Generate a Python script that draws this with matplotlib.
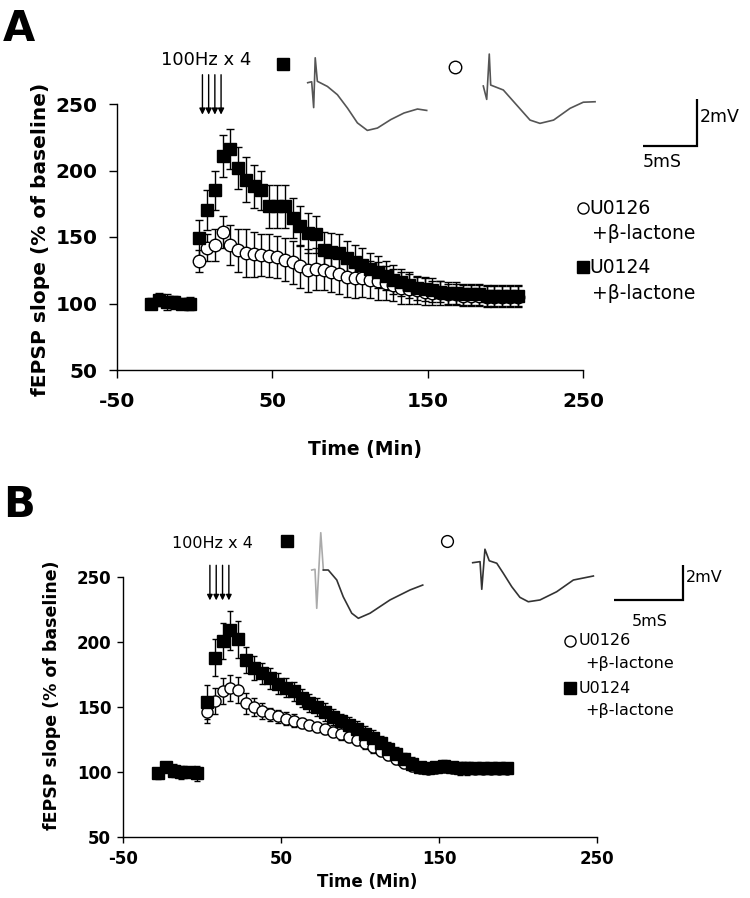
import matplotlib
matplotlib.use("Agg")
import matplotlib.pyplot as plt

plt.rcParams["axes.unicode_minus"] = False

# ---------------- data ----------------
base_t = [-28, -23, -18, -13, -8, -3]
A_base = [100, 103, 101, 101, 100, 100]
A_base_err = [4, 5, 6, 5, 4, 5]
B_base = [99, 104, 101, 100, 100, 99]
B_base_err = [4, 4, 5, 5, 4, 6]

A_t = [3, 8, 13, 18, 23, 28, 33, 38, 43, 48, 53, 58, 63, 68, 73, 78, 83, 88, 93, 98,
       103, 108, 113, 118, 123, 128, 133, 138, 143, 148, 153, 158, 163, 168, 173, 178,
       183, 188, 193, 198, 203, 208]
A_sq = [149, 170, 185, 211, 216, 202, 193, 188, 185, 173, 173, 173, 164, 158, 153, 152,
        140, 139, 138, 134, 131, 129, 126, 124, 121, 118, 116, 114, 112, 111, 110, 109,
        108, 108, 107, 107, 107, 106, 106, 106, 106, 106]
A_sq_err = [14, 15, 15, 16, 15, 16, 17, 16, 15, 16, 16, 16, 15, 15, 15, 14, 14, 14, 14, 13,
            13, 13, 12, 12, 11, 11, 10, 10, 9, 9, 9, 8, 8, 8, 8, 8, 8, 8, 8, 8, 8, 8]
A_ci = [132, 142, 144, 154, 144, 140, 138, 137, 136.5, 136, 135, 133, 131, 128, 125, 126,
        125, 124, 122, 120, 119.5, 119, 118, 117, 115.5, 114, 112, 111, 110, 109, 108, 108,
        107, 107, 106, 106, 106, 105, 105, 105, 105, 105]
A_ci_err = [8, 10, 12, 12, 15, 16, 18, 17, 16, 16, 16, 16, 16, 16, 16, 16, 15, 15, 15, 15,
            15, 14, 14, 14, 13, 12, 12, 11, 10, 10, 9, 9, 8, 8, 8, 8, 8, 8, 8, 8, 8, 8]

B_t = [3, 8, 13, 18, 23, 28, 33, 38, 43, 48, 53, 58, 63, 68, 73, 78, 83, 88, 93, 98,
       103, 108, 113, 118, 123, 128, 133, 138, 143, 148, 153, 158, 163, 168, 173, 178,
       183, 188, 193]
B_sq = [154, 188, 201, 209, 202, 186, 180, 176, 172, 168, 165, 162, 157, 153, 150, 146,
        142.5, 139, 136, 133, 129.5, 126, 122, 118, 114, 110, 106.5, 104, 103, 104, 105,
        104, 103, 103, 103, 103, 103, 103, 103]
B_sq_err = [13, 14, 14, 15, 14, 10, 9, 8, 8, 8, 7, 7, 7, 7, 7, 7, 6, 6, 6, 6, 6, 6, 6, 5,
            5, 5, 5, 4, 4, 4, 4, 4, 5, 5, 4, 4, 4, 4, 4]
B_ci = [146, 155, 162, 165, 163, 153, 150, 147, 144.5, 143, 141, 139.5, 137.5, 136, 134.5,
        133, 131, 129, 127, 125, 122, 119, 116, 113, 110, 107, 104.5, 103, 102, 103, 104,
        103, 102, 102, 102, 102, 102, 102, 102]
B_ci_err = [8, 10, 10, 10, 10, 8, 7, 6, 5, 5, 5, 5, 4, 4, 4, 4, 4, 4, 4, 4, 4, 4, 4, 4,
            4, 4, 4, 3, 3, 3, 3, 3, 3, 3, 3, 3, 3, 3, 3]

stim_t = [5, 9, 13, 17]

x_ticks = [-50, 50, 150, 250]
y_ticks = [50, 100, 150, 200, 250]

# example fEPSP traces (ms, mV)
A1_t = [0.0, 0.28, 0.42, 0.53, 0.68, 1.39, 2.09, 2.80, 3.50, 4.20, 4.91, 5.85, 6.78, 7.73, 8.38]
A1_v = [0.0, 0.04, -1.06, 1.06, 0.06, -0.16, -0.51, -1.08, -1.71, -2.03, -1.93, -1.57, -1.29, -1.12, -1.18]
A2_t = [0.0, 0.24, 0.42, 0.52, 1.41, 2.35, 3.29, 3.99, 4.95, 6.11, 7.04, 7.87]
A2_v = [0.0, -0.57, 1.36, 0.04, -0.17, -0.81, -1.45, -1.59, -1.45, -0.95, -0.69, -0.67]
B1_t = [0.0, 0.23, 0.35, 0.63, 0.81, 1.15, 1.74, 2.19, 2.78, 3.24, 4.05, 5.44, 6.83, 7.71]
B1_v = [0.0, 0.04, -2.19, 2.13, 0.0, 0.0, -0.57, -1.53, -2.47, -2.76, -2.47, -1.71, -1.14, -0.86]
B2_t = [0.0, 0.51, 0.63, 0.85, 1.15, 1.67, 2.13, 2.71, 3.28, 3.86, 4.67, 5.83, 6.99, 8.38]
B2_v = [0.0, 0.06, -1.52, 0.77, 0.11, -0.03, -0.61, -1.37, -1.98, -2.23, -2.13, -1.66, -0.99, -0.76]
bar_ms = 5
bar_mv = 2

# ---------------- figure ----------------
W, H = 750, 898
fig = plt.figure(figsize=(W / 100, H / 100), dpi=100)


def px_box(x0, y0, x1, y1):
    return [x0 / W, 1 - y1 / H, (x1 - x0) / W, (y1 - y0) / H]


def fx(x):
    return x / W


def fy(y):
    return 1 - y / H


def setup(ax, tsize, tlen, xpad, ypad):
    ax.set_xlim(-50, 250)
    ax.set_ylim(50, 250)
    ax.set_xticks(x_ticks)
    ax.set_yticks(y_ticks)
    for s in ["top", "right"]:
        ax.spines[s].set_visible(False)
    for s in ["left", "bottom"]:
        ax.spines[s].set_linewidth(1.0)
    ax.tick_params(direction="out", length=tlen, width=1.0, labelsize=tsize)
    ax.tick_params(axis="x", pad=xpad)
    ax.tick_params(axis="y", pad=ypad)
    for lab in ax.get_xticklabels() + ax.get_yticklabels():
        lab.set_fontweight("bold")


def draw(ax, t_post, sq, sq_e, ci, ci_e, base, base_e, ms, cap):
    ax.errorbar(base_t, base, yerr=base_e, fmt="none", ecolor="black", elinewidth=1,
                capsize=cap, capthick=1, zorder=2)
    ax.errorbar(t_post, ci, yerr=ci_e, fmt="none", ecolor="black", elinewidth=1,
                capsize=cap, capthick=1, zorder=2)
    ax.errorbar(t_post, sq, yerr=sq_e, fmt="none", ecolor="black", elinewidth=1,
                capsize=cap, capthick=1, zorder=2)
    ax.plot(t_post, ci, "o", ms=ms, mfc="white", mec="black", mew=1, zorder=3, clip_on=False)
    ax.plot(base_t, base, "s", ms=ms, mfc="black", mec="black", zorder=4, clip_on=False)
    ax.plot(t_post, sq, "s", ms=ms, mfc="black", mec="black", zorder=4, clip_on=False)


def arrows(ax, y_top, y_tip, ms):
    for t in stim_t:
        ax.annotate("", xy=(t, y_tip), xytext=(t, y_top), annotation_clip=False,
                    arrowprops=dict(arrowstyle="-|>", color="black", lw=1,
                                    mutation_scale=ms, shrinkA=0, shrinkB=0))


def trace(box, origin, ppms, ppmv, t, v, color, lw=1.2, split=None, color2=None):
    x0, y0, x1, y1 = box
    a = fig.add_axes(px_box(x0, y0, x1, y1))
    ox, oy = origin
    a.set_xlim((x0 - ox) / ppms, (x1 - ox) / ppms)
    a.set_ylim(-(y1 - oy) / ppmv, -(y0 - oy) / ppmv)
    if split:
        a.plot(t[:split + 1], v[:split + 1], color=color2, lw=lw)
        a.plot(t[split:], v[split:], color=color, lw=lw, solid_joinstyle="round")
    else:
        a.plot(t, v, color=color, lw=lw, solid_joinstyle="round")
    a.axis("off")


def scalebar(box, corner, ppms, ppmv):
    x0, y0, x1, y1 = box
    a = fig.add_axes(px_box(x0, y0, x1, y1))
    ox, oy = corner
    a.set_xlim((x0 - ox) / ppms, (x1 - ox) / ppms)
    a.set_ylim(-(y1 - oy) / ppmv, -(y0 - oy) / ppmv)
    a.plot([-bar_ms, 0, 0], [0, 0, bar_mv], color="black", lw=1.6,
           solid_joinstyle="miter", solid_capstyle="butt")
    a.axis("off")


# ---------------- panel A ----------------
axA = fig.add_axes(px_box(117, 104, 583, 370))
setup(axA, 14.5, 6, 10, 8)
draw(axA, A_t, A_sq, A_sq_err, A_ci, A_ci_err, A_base, A_base_err, 9, 2.6)
arrows(axA, 272, 242, 9)
axA.text(7.3, 283, "100Hz x 4", ha="center", va="center", fontsize=13, clip_on=False)

# header icons
axA.plot([0.356], [1.150], "s", ms=9, color="black", transform=axA.transAxes, clip_on=False)
axA.plot([0.725], [1.139], "o", ms=9, mfc="white", mec="black", mew=1,
         transform=axA.transAxes, clip_on=False)
# legend
axA.plot([1.0], [0.609], "o", ms=8, mfc="white", mec="black", mew=1,
         transform=axA.transAxes, clip_on=False)
axA.text(1.013, 0.609, "U0126", transform=axA.transAxes, fontsize=13.5, va="center", ha="left")
axA.text(1.019, 0.515, "+β-lactone", transform=axA.transAxes, fontsize=13.5, va="center", ha="left")
axA.plot([1.0], [0.387], "s", ms=8.5, color="black", transform=axA.transAxes, clip_on=False)
axA.text(1.013, 0.387, "U0124", transform=axA.transAxes, fontsize=13.5, va="center", ha="left")
axA.text(1.019, 0.289, "+β-lactone", transform=axA.transAxes, fontsize=13.5, va="center", ha="left")

fig.text(fx(41), fy(239), "fEPSP slope (% of baseline)", rotation=90, ha="center",
         va="center", fontsize=14.5, fontweight="bold")
fig.text(fx(365), fy(450), "Time (Min)", ha="center", va="center", fontsize=13.5,
         fontweight="bold")
fig.text(fx(3), fy(8), "A", ha="left", va="top", fontsize=30, fontweight="bold")

trace((300, 45, 432, 138), (307.7, 82.7), 14.2, 23.5, A1_t, A1_v, "#555555")
trace((478, 45, 600, 130), (483.3, 86), 14.2, 23.5, A2_t, A2_v, "#555555")
scalebar((635, 90, 705, 150), (697, 146), 10.8, 23.5)
fig.text(fx(700), fy(117), "2mV", ha="left", va="center", fontsize=12.5)
fig.text(fx(662), fy(162), "5mS", ha="center", va="center", fontsize=12.5)

# ---------------- panel B ----------------
axB = fig.add_axes(px_box(123, 577, 597, 837))
setup(axB, 12, 4.5, 5, 4)
draw(axB, B_t, B_sq, B_sq_err, B_ci, B_ci_err, B_base, B_base_err, 8, 2.4)
arrows(axB, 259, 232, 8)
axB.text(6.6, 276, "100Hz x 4", ha="center", va="center", fontsize=11.5, clip_on=False)

axB.plot([0.346], [1.138], "s", ms=8.5, color="black", transform=axB.transAxes, clip_on=False)
axB.plot([0.684], [1.138], "o", ms=8.5, mfc="white", mec="black", mew=1,
         transform=axB.transAxes, clip_on=False)
axB.plot([0.943], [0.754], "o", ms=8, mfc="white", mec="black", mew=1,
         transform=axB.transAxes, clip_on=False)
axB.text(0.962, 0.754, "U0126", transform=axB.transAxes, fontsize=11.5, va="center", ha="left")
axB.text(0.975, 0.669, "+β-lactone", transform=axB.transAxes, fontsize=11.5, va="center", ha="left")
axB.plot([0.943], [0.573], "s", ms=8.5, color="black", transform=axB.transAxes, clip_on=False)
axB.text(0.962, 0.573, "U0124", transform=axB.transAxes, fontsize=11.5, va="center", ha="left")
axB.text(0.975, 0.488, "+β-lactone", transform=axB.transAxes, fontsize=11.5, va="center", ha="left")

fig.text(fx(52), fy(695), "fEPSP slope (% of baseline)", rotation=90, ha="center",
         va="center", fontsize=12.5, fontweight="bold")
fig.text(fx(367), fy(882), "Time (Min)", ha="center", va="center", fontsize=12,
         fontweight="bold")
fig.text(fx(3), fy(484), "B", ha="left", va="top", fontsize=30, fontweight="bold")

trace((305, 525, 430, 625), (311.7, 570), 14.4, 17.5, B1_t, B1_v, "#333333",
      split=4, color2="#aaaaaa")
trace((465, 540, 600, 610), (472.7, 562.7), 14.4, 17.5, B2_t, B2_v, "#333333")
scalebar((605, 560, 688, 605), (683, 600), 13.8, 17.5)
fig.text(fx(686), fy(577), "2mV", ha="left", va="center", fontsize=11.5)
fig.text(fx(650), fy(621), "5mS", ha="center", va="center", fontsize=11.5)

fig.savefig("out.png", dpi=100)
